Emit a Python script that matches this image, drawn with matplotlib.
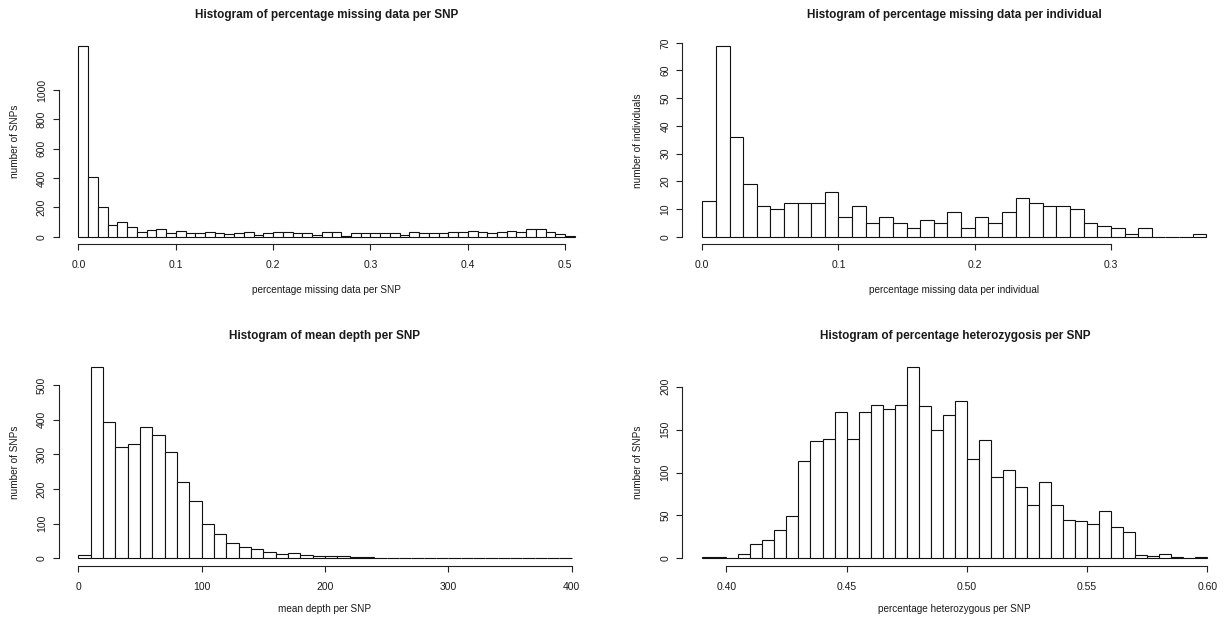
import matplotlib
matplotlib.use('Agg')
import matplotlib.pyplot as plt
import numpy as np

plt.rcParams['font.family'] = ['Liberation Sans', 'DejaVu Sans']

# counts
snp_missing_start, snp_missing_width = 0.0, 0.01
snp_missing_counts = [1300, 410, 200, 77, 98, 68, 30, 45, 50, 23,
                      39, 23, 23, 32, 23, 15, 23, 30, 10, 23,
                      30, 30, 23, 23, 10, 30, 30, 7, 27, 27,
                      27, 27, 27, 11, 34, 25, 25, 25, 30, 34,
                      39, 30, 27, 32, 39, 30, 50, 50, 30, 18, 7]

ind_missing_start, ind_missing_width = 0.0, 0.01
ind_missing_counts = [13, 69, 36, 19, 11, 10, 12, 12, 12, 16,
                      7, 11, 5, 7, 5, 3, 6, 5, 9, 3,
                      7, 5, 9, 14, 12, 11, 11, 10, 5, 4,
                      3, 1, 3, 0, 0, 0, 1]

depth_start, depth_width = 0, 10
depth_counts = [9, 551, 392, 320, 330, 380, 355, 306, 219, 165,
                100, 71, 44, 32, 28, 19, 12, 14, 10, 6,
                6, 6, 3, 3, 0, 0, 0, 0, 2, 2,
                2, 0, 0, 0, 0, 2, 0, 2, 0, 0]

het_start, het_width = 0.39, 0.005
het_counts = [1, 2, 0, 5, 17, 21, 33, 49, 113, 137,
              139, 170, 139, 170, 179, 174, 179, 223, 177, 149,
              167, 183, 116, 138, 95, 103, 83, 62, 89, 62,
              45, 44, 40, 55, 36, 31, 4, 3, 5, 1, 0, 1]

W, H = 1223, 624
fig = plt.figure(figsize=(W / 100, H / 100), dpi=100)
fig.patch.set_facecolor('white')

TXT = '#1a1a1a'


def rect(left, top, right, bottom):
    return [left / W, 1 - bottom / H, (right - left) / W, (bottom - top) / H]


def r_hist(box, start, width, counts, xticks, yticks, title, xlabel, ylabel,
           fmt, title_y, xlabel_y, ylabel_x):
    ax = fig.add_axes(rect(*box))
    counts = np.array(counts)
    lefts = start + width * np.arange(len(counts))
    ax.bar(lefts, counts, width=width, align='edge', facecolor='white',
           edgecolor='#111111', linewidth=0.8)
    x0, x1 = lefts[0], lefts[-1] + width
    pad = 0.04 * (x1 - x0)
    ax.set_xlim(x0 - pad, x1 + pad)
    ymax = counts.max()
    ax.set_ylim(-0.04 * ymax, 1.04 * ymax)

    for s in ['top', 'right']:
        ax.spines[s].set_visible(False)
    for s in ['left', 'bottom']:
        ax.spines[s].set_linewidth(0.8)
        ax.spines[s].set_color('#222222')
    ax.spines['bottom'].set_bounds(xticks[0], xticks[-1])
    ax.spines['left'].set_bounds(yticks[0], yticks[-1])

    ax.set_xticks(xticks)
    ax.set_xticklabels([fmt.format(t) for t in xticks])
    ax.set_yticks(yticks)
    ax.set_yticklabels([str(t) for t in yticks], rotation=90, va='center')
    ax.tick_params(axis='both', direction='out', length=4.5, width=0.8,
                   color='#222222', labelsize=7.5, labelcolor=TXT)
    ax.tick_params(axis='x', pad=7)
    ax.tick_params(axis='y', pad=4)

    bb = ax.get_position()
    cx = (bb.x0 + bb.x1) / 2
    fig.text(cx, 1 - title_y / H, title, ha='center', va='center',
             fontsize=8.5, fontweight='bold', color=TXT)
    fig.text(cx, 1 - xlabel_y / H, xlabel, ha='center', va='center',
             fontsize=7.2, color=TXT)
    cy = (bb.y0 + bb.y1) / 2
    fig.text(ylabel_x / W, cy, ylabel, ha='center', va='center',
             rotation=90, fontsize=7.2, color=TXT)
    return ax


r_hist((58.6, 38.4, 594.7, 244.3), snp_missing_start, snp_missing_width,
       snp_missing_counts, [0.0, 0.1, 0.2, 0.3, 0.4, 0.5],
       [0, 200, 400, 600, 800, 1000],
       'Histogram of percentage missing data per SNP',
       'percentage missing data per SNP', 'number of SNPs', '{:.1f}',
       15, 290, 15)

r_hist((682.1, 37.9, 1226.4, 244.3), ind_missing_start, ind_missing_width,
       ind_missing_counts, [0.0, 0.1, 0.2, 0.3],
       [0, 10, 20, 30, 40, 50, 60, 70],
       'Histogram of percentage missing data per individual',
       'percentage missing data per individual', 'number of individuals',
       '{:.1f}', 15, 290, 638)

r_hist((58.6, 359.6, 591.4, 565.9), depth_start, depth_width,
       depth_counts, [0, 100, 200, 300, 400],
       [0, 100, 200, 300, 400, 500],
       'Histogram of mean depth per SNP',
       'mean depth per SNP', 'number of SNPs', '{:d}',
       336, 609, 15)

r_hist((682.0, 359.3, 1227.7, 566.0), het_start, het_width,
       het_counts, [0.40, 0.45, 0.50, 0.55, 0.60],
       [0, 50, 100, 150, 200],
       'Histogram of percentage heterozygosis per SNP',
       'percentage heterozygous per SNP', 'number of SNPs', '{:.2f}',
       336, 609, 638)

fig.savefig('out.png', dpi=100)
